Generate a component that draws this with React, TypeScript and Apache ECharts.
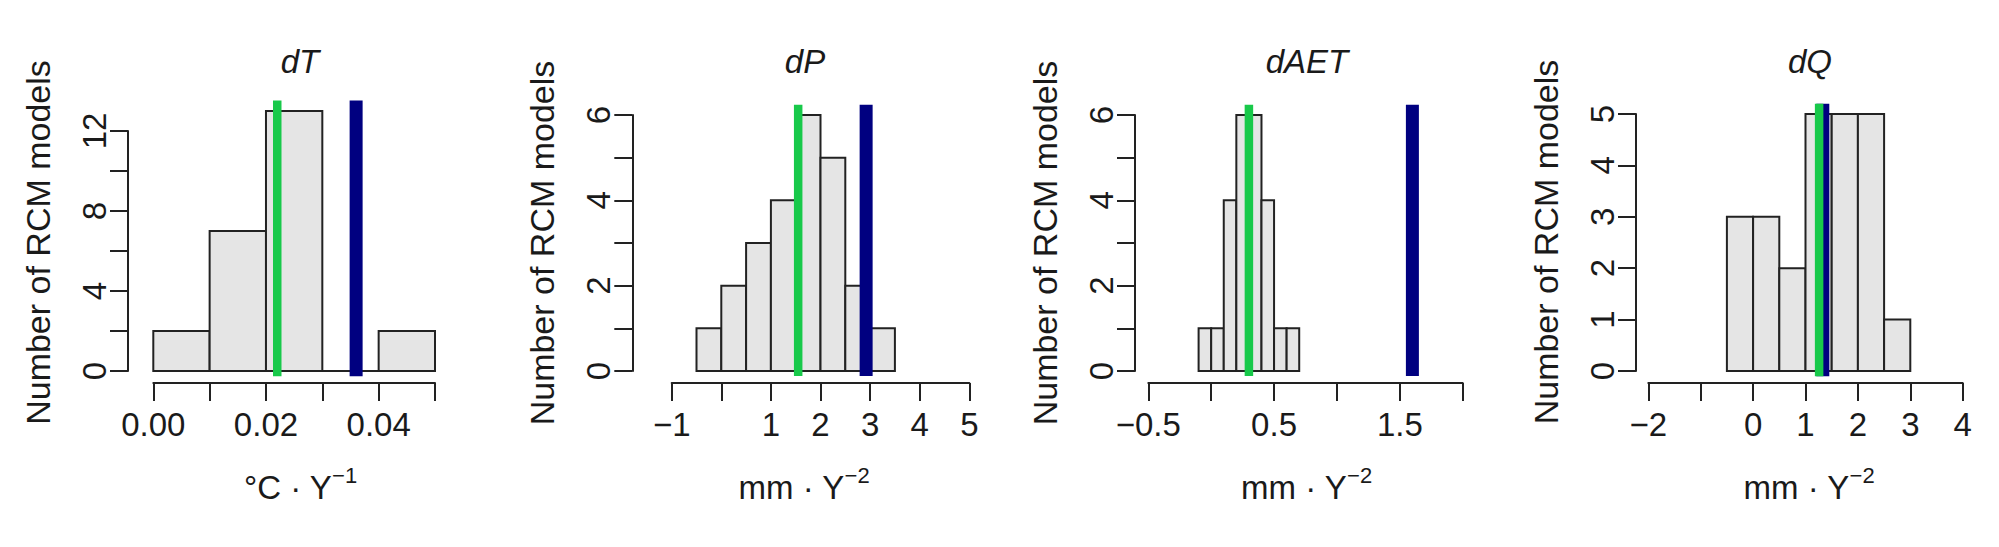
import React, { useEffect, useRef } from "react";
import * as echarts from "echarts";

// ---------- data ----------
const panelTitles = ["dT", "dP", "dAET", "dQ"];
const unitBase = ["°C · Y", "mm · Y", "mm · Y", "mm · Y"];
const unitExp = ["−1", "−2", "−2", "−2"];
const yAxisTitle = "Number of RCM models";

const dTBreaks = [0, 0.01, 0.02, 0.03, 0.04, 0.05];
const dTCounts = [2, 7, 13, 0, 2];
const dPBreaks = [-0.5, 0, 0.5, 1, 1.5, 2, 2.5, 3, 3.5];
const dPCounts = [1, 2, 3, 4, 6, 5, 2, 1];
const dAETBreaks = [-0.1, 0, 0.1, 0.2, 0.3, 0.4, 0.5, 0.6, 0.7];
const dAETCounts = [1, 1, 4, 6, 6, 4, 1, 1];
const dQBreaks = [-0.5, 0, 0.5, 1, 1.5, 2, 2.5, 3];
const dQCounts = [3, 3, 2, 5, 5, 5, 1];

const greenValues = [0.022, 1.55, 0.3, 1.26];
const blueValues = [0.036, 2.92, 1.6, 1.33];

const xMin = [0, -1, -0.5, -2];
const xMax = [0.05, 5, 2, 4];
const xStep = [0.01, 1, 0.5, 1];
const xLabelTicks = [
  [0, 0.02, 0.04],
  [-1, 1, 2, 3, 4, 5],
  [-0.5, 0.5, 1.5],
  [-2, 0, 1, 2, 3, 4],
];
const xLabelDecimals = [2, 0, 1, 0];
const yMax = [12, 6, 6, 5];
const yStep = [2, 1, 1, 1];
const yLabelTicks = [
  [0, 4, 8, 12],
  [0, 2, 4, 6],
  [0, 2, 4, 6],
  [0, 1, 2, 3, 4, 5],
];

const breaksList = [dTBreaks, dPBreaks, dAETBreaks, dQBreaks];
const countsList = [dTCounts, dPCounts, dAETCounts, dQCounts];

// ---------- layout / style ----------
const FONT = "'Liberation Sans', Arial, Helvetica, sans-serif";
const TEXT = "#1a1a1a";
const AXIS = "#222222";
const grids = [
  { left: 153.3, top: 131, width: 281.7, height: 240 },
  { left: 671.7, top: 115, width: 297.6, height: 256 },
  { left: 1148.3, top: 115, width: 314.4, height: 256 },
  { left: 1648.3, top: 114, width: 314.4, height: 257 },
];
const yOffsets = [25.3, 39.4, 13.3, 12.3];
const titleX = [300, 805, 1307, 1810];
const xNamePad = [
  [0, 0, 0, 12.6],
  [0, 33, 0, 0],
  [0, 0, 0, 2],
  [0, 0, 0, 7],
];
const yNamePad = [
  [0, 0, 0, 17],
  [0, 0, 0, 0],
  [0, 0, 0, 0],
  [0, 0, 0, 1],
];

function fmt(v: number, dec: number) {
  const s = v.toFixed(dec);
  return s.startsWith("-") ? "−" + s.slice(1) : s;
}

function buildOption() {
  const xAxis: any[] = [];
  const yAxis: any[] = [];
  const series: any[] = [];
  const title: any[] = [];

  for (let i = 0; i < 4; i++) {
    const breaks = breaksList[i];
    const counts = countsList[i];
    const maxCount = Math.max(...counts);
    const lineTop = maxCount * 1.04;
    const lineBottom = -maxCount * 0.02;
    const labTicks = xLabelTicks[i];
    const dec = xLabelDecimals[i];
    const step = xStep[i];

    title.push({
      text: panelTitles[i],
      left: titleX[i],
      top: 45,
      textAlign: "center",
      padding: 0,
      textStyle: {
        fontFamily: FONT,
        fontSize: 33,
        fontStyle: "italic",
        fontWeight: "normal",
        color: TEXT,
      },
    });

    xAxis.push({
      gridIndex: i,
      type: "value",
      min: xMin[i],
      max: xMax[i],
      interval: step,
      offset: 12,
      axisLine: { show: true, onZero: false, lineStyle: { color: AXIS, width: 2 } },
      axisTick: { show: true, length: 18, lineStyle: { color: AXIS, width: 2 } },
      splitLine: { show: false },
      axisLabel: {
        margin: 25,
        fontFamily: FONT,
        fontSize: 33,
        color: TEXT,
        formatter: (v: number) => {
          const hit = labTicks.some((t) => Math.abs(t - v) < step * 1e-3);
          return hit ? fmt(v, dec) : "";
        },
      },
      name: `{b|${unitBase[i]}}{s|${unitExp[i]}}`,
      nameLocation: "middle",
      nameGap: 81,
      nameTextStyle: {
        padding: xNamePad[i],
        verticalAlign: "top",
        rich: {
          b: { fontFamily: FONT, fontSize: 33, color: TEXT, lineHeight: 40, verticalAlign: "bottom" },
          s: { fontFamily: FONT, fontSize: 22, color: TEXT, lineHeight: 40, verticalAlign: "top" },
        },
      },
    });

    const yTicks = yLabelTicks[i];
    yAxis.push({
      gridIndex: i,
      type: "value",
      min: 0,
      max: yMax[i],
      interval: yStep[i],
      offset: yOffsets[i],
      axisLine: { show: true, onZero: false, lineStyle: { color: AXIS, width: 2 } },
      axisTick: { show: true, length: 18, lineStyle: { color: AXIS, width: 2 } },
      splitLine: { show: false },
      axisLabel: {
        rotate: 90,
        margin: 17,
        fontFamily: FONT,
        fontSize: 33,
        color: TEXT,
        formatter: (v: number) => (yTicks.some((t) => Math.abs(t - v) < 1e-6) ? String(v) : ""),
      },
      name: yAxisTitle,
      nameLocation: "middle",
      nameRotate: 90,
      nameGap: 73,
      nameTextStyle: {
        fontFamily: FONT,
        fontSize: 34,
        color: TEXT,
        padding: yNamePad[i],
      },
    });

    const histData = counts.map((c, k) => [breaks[k], breaks[k + 1], c]);
    series.push({
      type: "custom",
      name: panelTitles[i] + " histogram",
      xAxisIndex: i,
      yAxisIndex: i,
      clip: false,
      encode: { x: [0, 1], y: 2 },
      data: histData,
      renderItem: (_p: any, api: any) => {
        const a = api.coord([api.value(0), api.value(2)]);
        const b = api.coord([api.value(1), 0]);
        return {
          type: "rect",
          shape: { x: a[0], y: a[1], width: b[0] - a[0], height: b[1] - a[1] },
          style: { fill: "#e5e5e5", stroke: "#222222", lineWidth: 2 },
        };
      },
    });

    const mkLine = (name: string, val: number, color: string, width: number) => ({
      type: "custom",
      name,
      xAxisIndex: i,
      yAxisIndex: i,
      clip: false,
      encode: { x: 0 },
      data: [[val]],
      renderItem: (_p: any, api: any) => {
        const v = api.value(0);
        const t = api.coord([v, lineTop]);
        const b = api.coord([v, lineBottom]);
        return {
          type: "line",
          shape: { x1: t[0], y1: t[1], x2: b[0], y2: b[1] },
          style: { stroke: color, lineWidth: width, lineCap: "butt" },
        };
      },
    });
    series.push(mkLine(panelTitles[i] + " blue", blueValues[i], "#000080", 13));
    series.push(mkLine(panelTitles[i] + " green", greenValues[i], "#18c94a", 8.5));
  }

  return {
    animation: false,
    backgroundColor: "#ffffff",
    title,
    grid: grids.map((g) => ({ ...g, containLabel: false })),
    xAxis,
    yAxis,
    series,
  };
}

export default function App() {
  const ref = useRef<HTMLDivElement>(null);
  useEffect(() => {
    if (!ref.current) return;
    const chart = echarts.init(ref.current, undefined, { renderer: "svg" });
    chart.setOption(buildOption() as any);
    return () => chart.dispose();
  }, []);
  return (
    <div
      ref={ref}
      style={{ position: "fixed", left: 0, top: 0, width: 1999, height: 547, background: "#fff" }}
    />
  );
}
